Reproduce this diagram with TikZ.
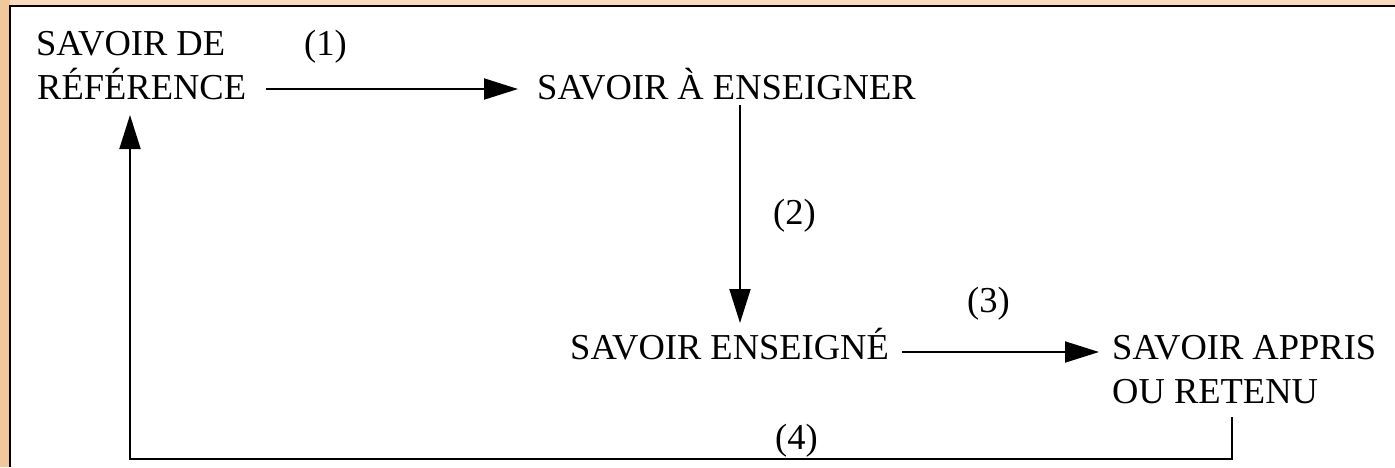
\documentclass[tikz,border=0pt]{standalone}
\usepackage{fontspec}
\setmainfont{Liberation Serif}
\usetikzlibrary{arrows.meta}
\definecolor{tanleft}{HTML}{F0C89C}
\definecolor{tantop}{HTML}{F6DBBE}
\begin{document}
\begin{tikzpicture}[x=1pt,y=-1pt,
  lbl/.style={inner sep=0pt, anchor=base west, font=\fontsize{36.5}{44}\selectfont},
  conn/.style={line width=1.9pt},
  arr/.style={conn, -{Triangle[length=34pt,width=21pt]}}]
\useasboundingbox (0,0) rectangle (1395,467);
\fill[tanleft] (0,0) rectangle (1395,467);
\fill[tantop] (10,0) rectangle (1395,6);
\fill[white] (10,6) rectangle (1395,467);
\draw[line width=2.5pt] (10,467) -- (10,6) -- (1395,6);

\node[lbl] (sd) at (36,55) {SAVOIR DE};
\node[lbl] (ref) at (37,99) {RÉFÉRENCE};
\node[lbl] (n1) at (304,55) {(1)};
\node[lbl] (ens) at (537,99) {SAVOIR À ENSEIGNER};
\node[lbl] (n2) at (773,224) {(2)};
\node[lbl] (ensg) at (570,359) {SAVOIR ENSEIGNÉ};
\node[lbl] (n3) at (967,312) {(3)};
\node[lbl] (app) at (1112,359) {SAVOIR APPRIS};
\node[lbl] (ret) at (1112,403) {OU RETENU};
\node[lbl] (n4) at (775,449) {(4)};

\draw[arr] ([shift={(20,-10)}]ref.base east) -- ([shift={(-19,-10)}]ens.base west);
\draw[arr] ([shift={(203,6)}]ens.base west) -- ([shift={(170,-36)}]ensg.base west);
\draw[arr] ([shift={(13,-7)}]ensg.base east) -- ([shift={(-13,-7)}]app.base west);
\coordinate (c1) at ([shift={(120,56)}]ret.base west);
\draw[arr] ([shift={(120,14)}]ret.base west) -- (c1) -| ([shift={(93,16)}]ref.base west);
\end{tikzpicture}
\end{document}
